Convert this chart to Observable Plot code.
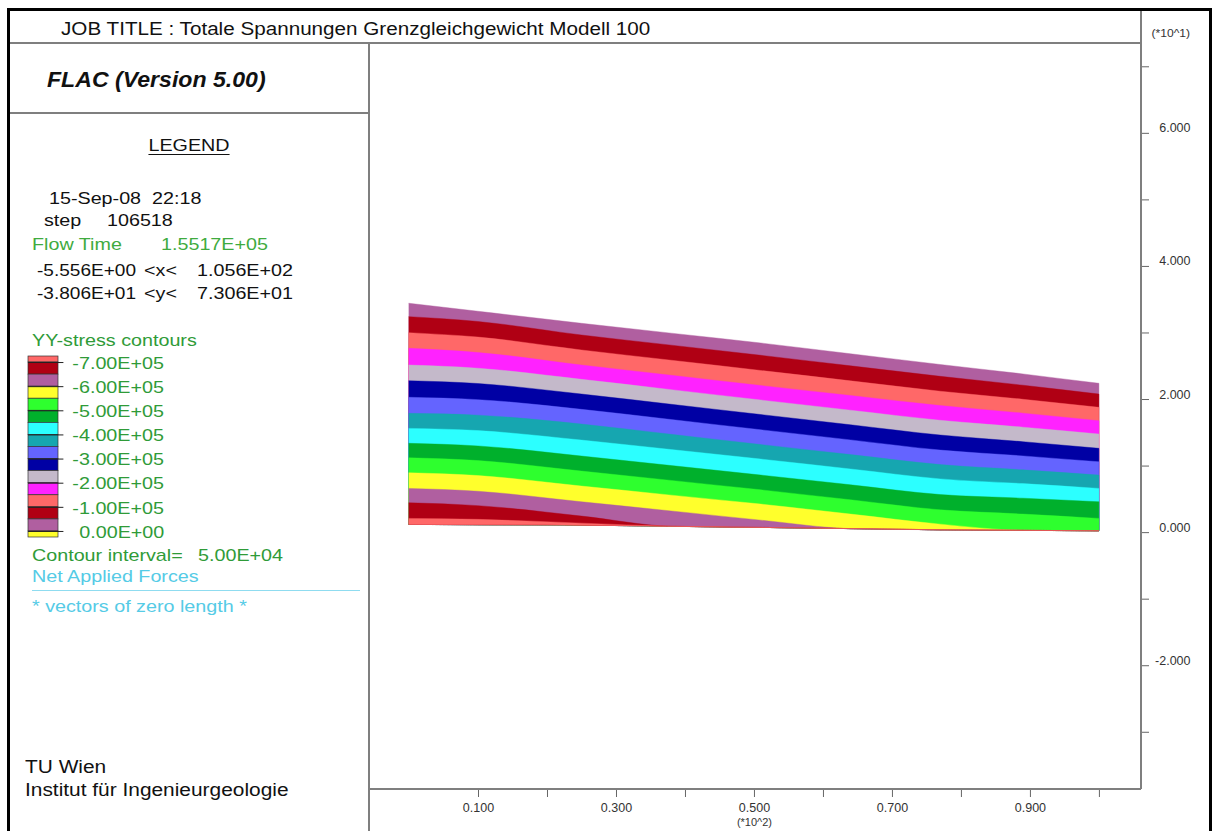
<!DOCTYPE html>
<html><head><meta charset="utf-8">
<script src="https://cdn.jsdelivr.net/npm/d3@7"></script>
<script src="https://cdn.jsdelivr.net/npm/@observablehq/plot@0.6"></script>
<style>
html,body{margin:0;padding:0;background:#fff;overflow:hidden;}
#page{position:relative;width:1221px;height:831px;overflow:hidden;font-family:"Liberation Sans",Arial,Helvetica,sans-serif;background:#fff;}
.t{position:absolute;white-space:pre;line-height:1;}
.ln{position:absolute;background:#7f7f7f;}
.bd{position:absolute;background:#000;}
#page svg{position:absolute;left:0;top:0;}
</style></head><body><div id="page"></div>
<script>
// ---- data ----
// x stations (m) along the slab
const stations = [0, 10, 25, 38, 51, 64, 77, 89, 100];
// contour boundaries (y in m) from the surface down to the base
const surface = [34.39, 33.19, 31.38, 29.90, 28.42, 26.80, 25.19, 23.77, 22.36];
const c050 = [32.38, 31.65, 29.62, 28.10, 26.57, 24.99, 23.41, 22.08, 20.75];
const c100 = [29.97, 29.31, 27.37, 25.83, 24.29, 22.73, 21.17, 19.96, 18.75];
const c150 = [27.62, 26.99, 25.11, 23.57, 22.03, 20.53, 19.02, 17.88, 16.74];
const c200 = [25.11, 24.63, 22.96, 21.41, 19.85, 18.32, 16.80, 15.77, 14.74];
const c250 = [22.75, 22.33, 20.75, 19.21, 17.67, 16.13, 14.59, 13.59, 12.59];
const c300 = [20.26, 19.91, 18.45, 16.92, 15.38, 13.86, 12.33, 11.45, 10.57];
const c350 = [17.85, 17.58, 16.24, 14.70, 13.16, 11.65, 10.15, 9.36, 8.57];
const c400 = [15.59, 15.26, 13.83, 12.41, 10.98, 9.49, 8.00, 7.29, 6.57];
const c450 = [13.34, 12.95, 11.43, 10.00, 8.57, 7.11, 5.64, 5.10, 4.56];
const c500 = [11.17, 10.75, 9.17, 7.77, 6.36, 4.86, 3.35, 2.71, 2.06];
const c550 = [8.92, 8.50, 6.92, 5.56, 4.21, 2.71, 1.20, 0.27, 0.20];
const c600 = [6.57, 6.14, 4.56, 3.18, 1.80, 0.53, 0.35, 0.27, 0.20];
const c650 = [4.41, 3.98, 2.41, 0.88, 0.71, 0.53, 0.35, 0.27, 0.20];
const c700 = [2.06, 1.92, 1.35, 0.88, 0.71, 0.53, 0.35, 0.27, 0.20];
const base = [1.16, 1.11, 1.05, 0.88, 0.71, 0.53, 0.35, 0.27, 0.20];

// legend: stress intervals from -7.5E+05 upward, step 5E+04
const legendLower = [-750000,-700000,-650000,-600000,-550000,-500000,-450000,-400000,-350000,-300000,-250000,-200000,-150000,-100000,-50000,0];
const legendColors = ["#ff6868","#b00014","#b05fa0","#ffff2c","#2eff2e","#00b02c","#2cffff","#16a6b0","#6464ff","#0000a4","#c4b9ca","#ff22ff","#ff6868","#b00014","#b05fa0","#ffff2c"];
const legendLabels = [-700000,-600000,-500000,-400000,-300000,-200000,-100000,0];

const xTicks = [10,20,30,40,50,60,70,80,90,100];
const xLabels = [10,30,50,70,90];
const yTicks = [-30,-20,-10,0,10,20,30,40,50,60,70];
const yLabels = [-20,0,20,40,60];

// ---- build ----
const page = document.getElementById("page");
const FONT = '"Liberation Sans",Arial,Helvetica,sans-serif';

const contours = [surface,c050,c100,c150,c200,c250,c300,c350,c400,c450,c500,c550,c600,c650,c700];
const bandMarks = contours.map((upper, i) => {
  const rows = stations.map((x, j) => ({x, hi: upper[j], lo: base[j]}));
  const col = legendColors[14 - i];
  return Plot.areaY(rows, {x: "x", y1: "lo", y2: "hi", fill: col, stroke: col, strokeWidth: 0.4, curve: "monotone-x"});
});

const main = Plot.plot({
  width: 1221, height: 831,
  marginLeft: 369, marginRight: 80, marginTop: 43, marginBottom: 42,
  x: {domain: [-5.8, 106.1]},
  y: {domain: [-38.6, 73.5]},
  style: {fontFamily: FONT, fontSize: "12.5px", color: "#333", background: "transparent", overflow: "visible"},
  marks: [
    ...bandMarks,
    Plot.axisX(xTicks, {anchor: "bottom", tickSize: 8, tickFormat: () => "", label: null, stroke: "#666"}),
    Plot.axisX(xLabels, {anchor: "bottom", tickSize: 0, tickPadding: 14, tickFormat: d => (d/100).toFixed(3), label: null, fill: "#333"}),
    Plot.axisX([50], {anchor: "bottom", tickSize: 0, tickPadding: 29, tickFormat: () => "(*10^2)", label: null, fontSize: 11, fill: "#333"}),
    Plot.axisY(yTicks, {anchor: "right", tickSize: 7, tickFormat: () => "", label: null, stroke: "#666"}),
    Plot.axisY(yLabels, {anchor: "right", tickSize: 0, tickPadding: 49, textAnchor: "end", dy: -5, tickFormat: d => (d/10).toFixed(3), label: null, fill: "#333"})
  ]
});
page.appendChild(main);

// frame lines
function line(cls, l, t, w, h, color) {
  const d = document.createElement("div");
  d.className = cls;
  Object.assign(d.style, {left: l+"px", top: t+"px", width: w+"px", height: h+"px"});
  if (color) d.style.background = color;
  page.appendChild(d);
}
line("bd", 7, 8, 1205, 3);       // outer top
line("bd", 7, 8, 3, 830);        // outer left
line("bd", 1209, 8, 3, 830);     // outer right
line("ln", 10, 42, 1131, 1.6);   // title row
line("ln", 10, 112, 359, 1.6);   // FLAC row
line("ln", 368, 43, 1.6, 790);   // left panel
line("ln", 1140, 11, 1.6, 778);  // y axis line
line("ln", 368, 788, 773, 1.6);  // x axis line

// text helper
function T(s, x, cy, o = {}) {
  const size = o.size || 17, sx = o.sx || 1.16;
  const d = document.createElement("div");
  d.className = "t";
  d.textContent = s;
  d.style.fontSize = size + "px";
  d.style.top = (cy - 0.49 * size) + "px";
  d.style.color = o.color || "#111";
  if (o.weight) d.style.fontWeight = o.weight;
  if (o.italic) d.style.fontStyle = "italic";
  if (o.underline) { d.style.textDecoration = "underline"; d.style.textUnderlineOffset = "3px"; d.style.textDecorationThickness = "1px"; }
  if (o.anchor === "middle") {
    d.style.left = x + "px";
    d.style.transformOrigin = "50% 50%";
    d.style.transform = `translateX(-50%) scaleX(${sx})`;
  } else if (o.anchor === "end") {
    d.style.right = (1221 - x) + "px";
    d.style.transformOrigin = "100% 50%";
    d.style.transform = `scaleX(${sx})`;
  } else {
    d.style.left = x + "px";
    d.style.transformOrigin = "0 50%";
    d.style.transform = `scaleX(${sx})`;
  }
  page.appendChild(d);
}
const GREEN = "#2f9b38", GREEN2 = "#3fab3f", CYAN = "#55cbe6";

T("JOB TITLE : Totale Spannungen Grenzgleichgewicht Modell 100", 61, 30, {size: 17.5, sx: 1.18});
T("FLAC (Version 5.00)", 46.7, 79.5, {size: 22, sx: 1.05, weight: "bold", italic: true});
T("LEGEND", 188.5, 145.5, {anchor: "middle", underline: true});
T("15-Sep-08", 49, 198); T("22:18", 151.7, 198);
T("step", 44.3, 220); T("106518", 106.7, 220);
T("Flow Time", 32.3, 244, {color: GREEN2}); T("1.5517E+05", 161, 244, {color: GREEN2});
T("-5.556E+00", 37, 270, {sx: 1.12}); T("<x<", 144, 270); T("1.056E+02", 196.7, 270);
T("-3.806E+01", 37, 293.3, {sx: 1.12}); T("<y<", 144, 293.3); T("7.306E+01", 196.7, 293.3);
T("YY-stress contours", 32.3, 340, {color: GREEN});
T("Contour interval=", 32.3, 555, {color: GREEN}); T("5.00E+04", 197.7, 555, {color: GREEN});
T("Net Applied Forces", 32.3, 576.7, {color: CYAN});
line("ln", 32, 590, 328, 1.2, "#8fdcf0");
T("* vectors of zero length *", 32.3, 606, {color: CYAN});
T("TU Wien", 25, 767, {size: 18});
T("Institut für Ingenieurgeologie", 25, 790, {size: 18});
T("(*10^1)", 1190, 33, {size: 11, sx: 1.1, anchor: "end", color: "#333"});

// legend colour bar (its own small plot)
const legendRows = legendLower.map((lo, k) => ({lo: Math.max(lo, -725000), hi: Math.min(lo + 50000, 25000), color: legendColors[k]}));
const leg = Plot.plot({
  width: 40, height: 200, marginLeft: 2, marginRight: 8, marginTop: 6, marginBottom: 13,
  x: {domain: [0, 1], axis: null},
  y: {domain: [25000, -725000], axis: null},
  style: {background: "transparent", overflow: "visible"},
  marks: [
    Plot.rect(legendRows, {x1: 0, x2: 1, y1: "lo", y2: "hi", fill: "color", stroke: "#333", strokeWidth: 0.7}),
    Plot.ruleY(legendLabels, {x1: 0, x2: 1.18, stroke: "#222", strokeWidth: 1})
  ],
  color: {type: "identity"}
});
leg.style.left = "26px"; leg.style.top = "350px";
page.appendChild(leg);
const ly = leg.scale("y");
legendLabels.forEach(v => {
  const s = (v < 0 ? "-" : "") + (Math.abs(v) / 1e5).toFixed(2) + "E+" + (v === 0 ? "00" : "05");
  T(s, 164, 350 + ly.apply(v) + 1, {anchor: "end", color: GREEN});
});
</script></body></html>
